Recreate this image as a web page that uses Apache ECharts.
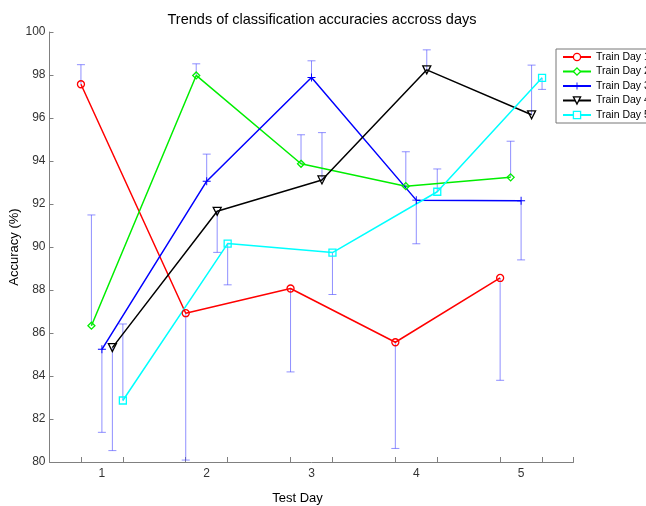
<!DOCTYPE html>
<html>
<head>
<meta charset="utf-8">
<script src="https://cdn.jsdelivr.net/npm/echarts@6/dist/echarts.min.js"></script>
<style>html,body{margin:0;padding:0;background:#fff;}#c{width:646px;height:506px;}</style>
</head>
<body>
<div id="c"></div>
<script>
// ---- data ----
const testDays = [1, 2, 3, 4, 5];
const xTickLabels = ['1', '2', '3', '4', '5'];
const yTicks = [80, 82, 84, 86, 88, 90, 92, 94, 96, 98, 100];
const seriesNames = ['Train Day 1', 'Train Day 2', 'Train Day 3', 'Train Day 4', 'Train Day 5'];

const day1 = [97.57, 86.92, 88.07, 85.57, 88.56];
const day2 = [86.34, 97.98, 93.87, 92.83, 93.24];
const day3 = [85.24, 93.06, 97.88, 92.18, 92.15];
const day4 = [85.32, 91.66, 93.12, 98.24, 96.15];
const day5 = [82.86, 90.16, 89.74, 92.57, 97.87];

// end value of each (one-sided) error bar
const day1ErrEnd = [98.48, 80.09, 84.19, 80.63, 83.80];
const day2ErrEnd = [91.49, 98.52, 95.22, 94.43, 94.92];
const day3ErrEnd = [81.38, 94.32, 98.66, 90.15, 89.40];
const day4ErrEnd = [80.53, 89.75, 95.32, 99.17, 98.46];
const day5ErrEnd = [86.42, 88.24, 87.79, 93.63, 97.33];

const values = [day1, day2, day3, day4, day5];
const errEnds = [day1ErrEnd, day2ErrEnd, day3ErrEnd, day4ErrEnd, day5ErrEnd];

// ---- style ----
const colors = ['#ff0000', '#00ee00', '#0000ff', '#000000', '#00ffff'];
const plusPath = 'path://M4.4,0H5.6V4.4H10V5.6H5.6V10H4.4V5.6H0V4.4H4.4Z';
const symbols = ['circle', 'diamond', plusPath, 'triangle', 'rect'];
const symbolRot = [0, 0, 0, 180, 0];
const symbolSizes = [7, 7, 8, 8, 7];
const hollow = [true, true, false, true, true];
const offsetStep = 0.1;
const FONT = 'Liberation Sans, Arial, sans-serif';
const errColor = 'rgba(70,70,255,0.6)';

const chart = echarts.init(document.getElementById('c'), null, {renderer: 'canvas'});

const series = [];
// error bars first (drawn underneath)
values.forEach((vals, i) => {
  const off = (i - 2) * offsetStep;
  series.push({
    type: 'custom',
    silent: true,
    z: 1,
    data: testDays.map((d, j) => [d + off, vals[j], errEnds[i][j]]),
    encode: {x: 0, y: [1, 2]},
    renderItem: function (params, api) {
      const x = api.value(0), y0 = api.value(1), y1 = api.value(2);
      const p0 = api.coord([x, y0]);
      const p1 = api.coord([x, y1]);
      const hw = 4;
      const st = {stroke: errColor, lineWidth: 1};
      return {
        type: 'group',
        children: [
          {type: 'line', shape: {x1: p0[0], y1: p0[1], x2: p1[0], y2: p1[1]}, style: st},
          {type: 'line', shape: {x1: p1[0] - hw, y1: p1[1], x2: p1[0] + hw, y2: p1[1]}, style: st}
        ]
      };
    }
  });
});
values.forEach((vals, i) => {
  const off = (i - 2) * offsetStep;
  series.push({
    type: 'line',
    name: seriesNames[i],
    z: 3,
    data: testDays.map((d, j) => [d + off, vals[j]]),
    symbol: symbols[i],
    symbolSize: symbolSizes[i],
    symbolRotate: symbolRot[i],
    showAllSymbol: true,
    color: colors[i],
    itemStyle: hollow[i]
      ? {color: 'rgba(255,255,255,0)', borderColor: colors[i], borderWidth: 1.3}
      : {color: colors[i], borderWidth: 0},
    lineStyle: {color: colors[i], width: 1.5},
    emphasis: {disabled: true},
    animation: false
  });
});

const legendData = seriesNames.map((n, i) => hollow[i]
  ? {name: n, itemStyle: {color: '#ffffff', borderColor: colors[i], borderWidth: 1.3}}
  : {name: n});

const option = {
  animation: false,
  backgroundColor: '#ffffff',
  textStyle: {fontFamily: FONT},
  title: {
    text: 'Trends of classification accuracies accross days',
    left: 317, top: 7, textAlign: 'center',
    textStyle: {fontFamily: FONT, fontSize: 14.5, fontWeight: 'normal', color: '#000'}
  },
  legend: {
    data: legendData,
    orient: 'vertical',
    left: 556, top: 49,
    padding: [1, 60, 1, 6],
    itemGap: 0.5,
    itemWidth: 28, itemHeight: 9,
    borderColor: '#777', borderWidth: 1, backgroundColor: '#fff',
    textStyle: {fontFamily: FONT, fontSize: 10.5, color: '#000', lineHeight: 14},
    selectedMode: false
  },
  grid: {left: 49.5, right: 72.5, top: 32, bottom: 44, containLabel: false, outerBoundsMode: 'none'},
  xAxis: {
    type: 'value', min: 0.5, max: 5.5,
    name: 'Test Day', nameLocation: 'middle', nameGap: 30, nameMoveOverlap: false,
    nameTextStyle: {fontFamily: FONT, fontSize: 13, color: '#000', padding: [0, 28, 0, 0]},
    axisLine: {show: true, lineStyle: {color: '#808080', width: 1}},
    axisTick: {show: true, inside: true, length: 5, lineStyle: {color: '#808080'},
      customValues: [0.8, 1.2, 1.8, 2.2, 2.8, 3.2, 3.8, 4.2, 4.8, 5.2, 5.5]},
    axisLabel: {show: true, customValues: testDays, margin: 6,
      formatter: v => xTickLabels[testDays.indexOf(Math.round(v))] || '',
      fontFamily: FONT, fontSize: 12, color: '#333'},
    splitLine: {show: false}
  },
  yAxis: {
    type: 'value', min: yTicks[0], max: yTicks[yTicks.length - 1], interval: 2,
    name: 'Accuracy (%)', nameLocation: 'middle', nameGap: 29, nameRotate: 90, nameMoveOverlap: false,
    nameTextStyle: {fontFamily: FONT, fontSize: 13, color: '#000'},
    axisLine: {show: true, lineStyle: {color: '#808080', width: 1}},
    axisTick: {show: true, inside: true, length: 4, lineStyle: {color: '#808080'}},
    axisLabel: {fontFamily: FONT, fontSize: 12, color: '#333', margin: 4},
    splitLine: {show: false}
  },
  series: series
};
chart.setOption(option);
</script>
</body>
</html>
